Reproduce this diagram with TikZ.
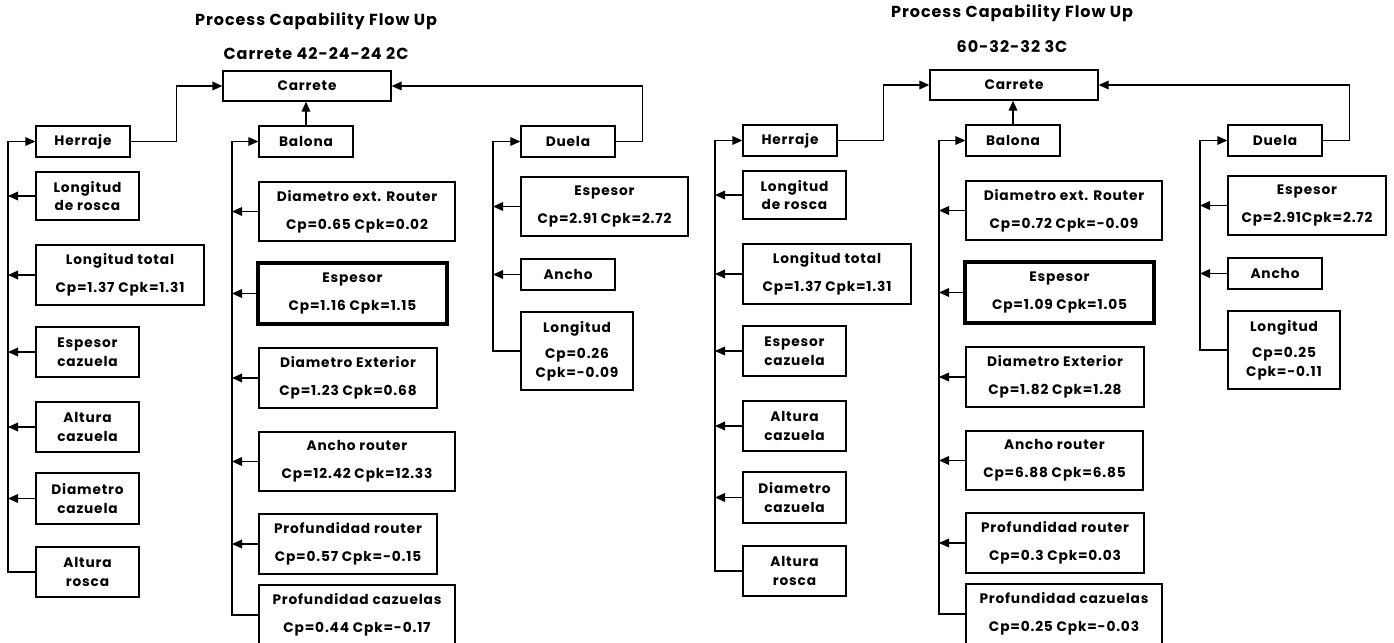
\documentclass[tikz,border=0pt]{standalone}
\usepackage{fontspec}
\setmainfont[LetterSpace=6]{Poppins}
\usetikzlibrary{arrows.meta}
\usetikzlibrary{calc}
\tikzset{>={Triangle[length=7.5pt,width=6.5pt]}}
\tikzset{
  box/.style 2 args={draw, line width=1pt, minimum width=#1*0.75pt, minimum height=#2*0.75pt, align=center, inner sep=0pt, font=\bfseries\fontsize{10.3}{14}\selectfont},
  thickbox/.style={line width=2.4pt},
  ttl/.style={font=\bfseries\fontsize{12}{14}\selectfont},
  wire/.style={line width=1pt}
}

\begin{document}
\begin{tikzpicture}[x=0.75pt,y=0.75pt,yscale=-1,xscale=1]
\useasboundingbox (0,0) rectangle (1394,642);

%Left chart: Carrete 42-24-24 2C
\node[ttl] (ttlA) at (316,21) {Process Capability Flow Up};
\node[ttl] (subA) at (316,54) {Carrete 42-24-24 2C};
\node[box={168}{30}] (carreteA) at (307,86) {Carrete};
%Herraje column
\node[box={94}{31}] (herrajeA) at (83,141.5) {Herraje};
\node[box={103}{48}] (lroscaA) at (87.5,196) {Longitud\\de rosca};
\node[box={168}{60}] (ltotalA) at (120,275) {Longitud total\\[7pt]Cp=1.37 Cpk=1.31};
\node[box={103}{50}] (ecazuelaA) at (87.5,352) {Espesor\\cazuela};
\node[box={103}{50}] (acazuelaA) at (87.5,427) {Altura\\cazuela};
\node[box={103}{51}] (dcazuelaA) at (87.5,498.5) {Diametro\\cazuela};
\node[box={103}{50}] (aroscaA) at (87.5,572) {Altura\\rosca};
%Balona column
\node[box={94}{31}] (balonaA) at (306,141.5) {Balona};
\node[box={196}{59}] (dextrA) at (357,211.5) {Diametro ext. Router\\[7pt]Cp=0.65 Cpk=0.02};
\node[box={189}{61}, thickbox] (espesorA) at (352.5,293.5) {Espesor\\[7pt]Cp=1.16 Cpk=1.15};
\node[box={178}{60}] (dextA) at (348,378) {Diametro Exterior\\[7pt]Cp=1.23 Cpk=0.68};
\node[box={196}{59}] (arouterA) at (357,461.5) {Ancho router\\[7pt]Cp=12.42 Cpk=12.33};
\node[box={178}{60}] (prouterA) at (348,544) {Profundidad router\\[7pt]Cp=0.57 Cpk=-0.15};
\node[box={196}{60}] (pcazuelasA) at (357,615) {Profundidad cazuelas\\[7pt]Cp=0.44 Cpk=-0.17};
%Duela column
\node[box={94}{31}] (duelaA) at (568,141.5) {Duela};
\node[box={167}{59}] (despesorA) at (604.5,206.5) {Espesor\\[7pt]Cp=2.91 Cpk=2.72};
\node[box={94}{31}] (danchoA) at (568,274.5) {Ancho};
\node[box={112}{78}] (dlongitudA) at (577,351) {Longitud\\[6pt]Cp=0.26\\Cpk=-0.09};
%buses
\coordinate (busHA) at (8,141.5);
\coordinate (busBA) at (232,141.5);
\coordinate (busDA) at (493,141.5);
\draw[wire,->] (aroscaA.west) -| (busHA) -- (herrajeA.west);
\foreach \n in {lroscaA,ltotalA,ecazuelaA,acazuelaA,dcazuelaA}
  \draw[wire,->] (\n.west) -- (\n.west -| busHA);
\draw[wire,->] (pcazuelasA.west) -| (busBA) -- (balonaA.west);
\foreach \n in {dextrA,espesorA,dextA,arouterA,prouterA}
  \draw[wire,->] (\n.west) -- (\n.west -| busBA);
\draw[wire,->] (dlongitudA.west) -| (busDA) -- (duelaA.west);
\foreach \n in {despesorA,danchoA}
  \draw[wire,->] (\n.west) -- (\n.west -| busDA);
%up to Carrete
\draw[wire,->] (herrajeA.east) -- ++(46,0) |- (carreteA.west);
\draw[wire,->] (balonaA.north) -- (balonaA.north |- carreteA.south);
\draw[wire,->] (duelaA.east) -- ++(27,0) |- (carreteA.east);

%Right chart: 60-32-32 3C
\begin{scope}[shift={(707,-1)}]
\node[ttl] (ttlB) at (305,14) {Process Capability Flow Up};
\node[ttl] (subB) at (305,48) {60-32-32 3C};
\node[box={168}{30}] (carreteB) at (307,86) {Carrete};
%Herraje column
\node[box={94}{31}] (herrajeB) at (83,141.5) {Herraje};
\node[box={103}{48}] (lroscaB) at (87.5,196) {Longitud\\de rosca};
\node[box={168}{60}] (ltotalB) at (120,275) {Longitud total\\[7pt]Cp=1.37 Cpk=1.31};
\node[box={103}{50}] (ecazuelaB) at (87.5,352) {Espesor\\cazuela};
\node[box={103}{50}] (acazuelaB) at (87.5,427) {Altura\\cazuela};
\node[box={103}{51}] (dcazuelaB) at (87.5,498.5) {Diametro\\cazuela};
\node[box={103}{50}] (aroscaB) at (87.5,572) {Altura\\rosca};
%Balona column
\node[box={94}{31}] (balonaB) at (306,141.5) {Balona};
\node[box={196}{59}] (dextrB) at (357,211.5) {Diametro ext. Router\\[7pt]Cp=0.72 Cpk=-0.09};
\node[box={189}{61}, thickbox] (espesorB) at (352.5,293.5) {Espesor\\[7pt]Cp=1.09 Cpk=1.05};
\node[box={178}{60}] (dextB) at (348,378) {Diametro Exterior\\[7pt]Cp=1.82 Cpk=1.28};
\node[box={177}{59}] (arouterB) at (347.5,461.5) {Ancho router\\[7pt]Cp=6.88 Cpk=6.85};
\node[box={178}{60}] (prouterB) at (348,544) {Profundidad router\\[7pt]Cp=0.3 Cpk=0.03};
\node[box={196}{60}] (pcazuelasB) at (357,615) {Profundidad cazuelas\\[7pt]Cp=0.25 Cpk=-0.03};
%Duela column
\node[box={94}{31}] (duelaB) at (568,141.5) {Duela};
\node[box={158}{59}] (despesorB) at (600,206.5) {Espesor\\[7pt]Cp=2.91Cpk=2.72};
\node[box={94}{31}] (danchoB) at (568,274.5) {Ancho};
\node[box={112}{78}] (dlongitudB) at (577,351) {Longitud\\[6pt]Cp=0.25\\Cpk=-0.11};
%buses
\coordinate (busHB) at (8,141.5);
\coordinate (busBB) at (232,141.5);
\coordinate (busDB) at (493,141.5);
\draw[wire,->] (aroscaB.west) -| (busHB) -- (herrajeB.west);
\foreach \n in {lroscaB,ltotalB,ecazuelaB,acazuelaB,dcazuelaB}
  \draw[wire,->] (\n.west) -- (\n.west -| busHB);
\draw[wire,->] (pcazuelasB.west) -| (busBB) -- (balonaB.west);
\foreach \n in {dextrB,espesorB,dextB,arouterB,prouterB}
  \draw[wire,->] (\n.west) -- (\n.west -| busBB);
\draw[wire,->] (dlongitudB.west) -| (busDB) -- (duelaB.west);
\foreach \n in {despesorB,danchoB}
  \draw[wire,->] (\n.west) -- (\n.west -| busDB);
%up to Carrete
\draw[wire,->] (herrajeB.east) -- ++(46,0) |- (carreteB.west);
\draw[wire,->] (balonaB.north) -- (balonaB.north |- carreteB.south);
\draw[wire,->] (duelaB.east) -- ++(27,0) |- (carreteB.east);
\end{scope}
\end{tikzpicture}
\end{document}
